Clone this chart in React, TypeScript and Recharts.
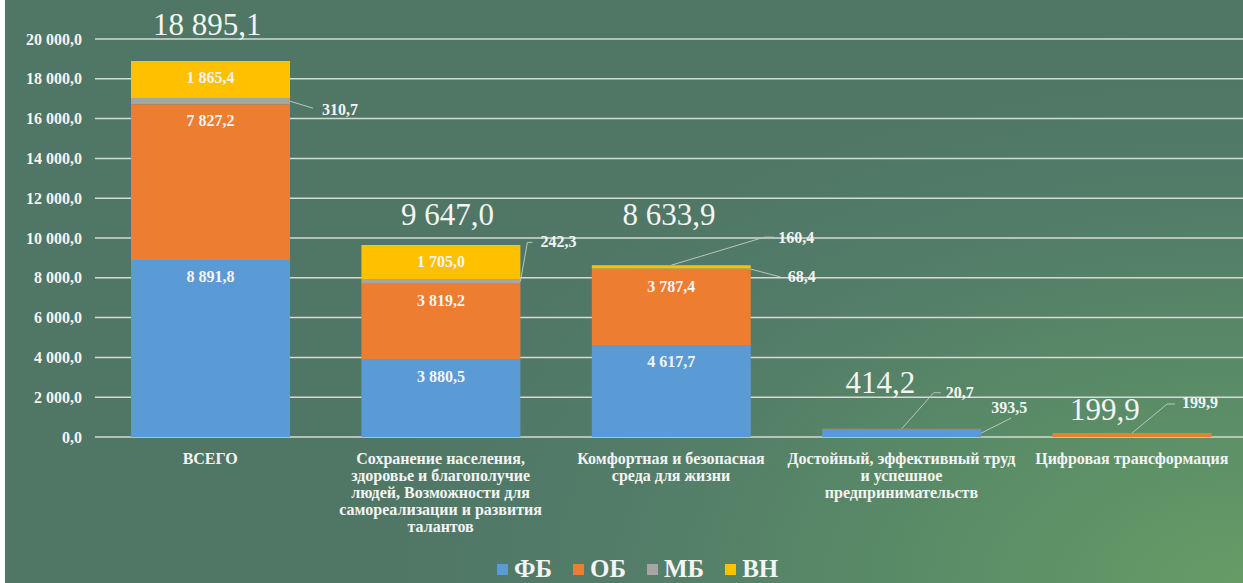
import React from "react";
import { ComposedChart, Bar, Line, XAxis, YAxis, CartesianGrid, LabelList } from "recharts";

// ── Data ──────────────────────────────────────────────────────────────

const categories = [
  "ВСЕГО",
  "Сохранение населения,\nздоровье и благополучие\nлюдей, Возможности для\nсамореализации и развития\nталантов",
  "Комфортная и безопасная\nсреда для жизни",
  "Достойный, эффективный труд\nи успешное\nпредпринимательств",
  "Цифровая трансформация",
];

const fbValues = [8891.8, 3880.5, 4617.7, 393.5, 0];
const obValues = [7827.2, 3819.2, 3787.4, 20.7, 199.9];
const mbValues = [310.7, 242.3, 68.4, 0, 0];
const vnValues = [1865.4, 1705.0, 160.4, 0, 0];

const yTicks = [0, 2000, 4000, 6000, 8000, 10000, 12000, 14000, 16000, 18000, 20000];

const SERIES = [
  { key: "fb", name: "ФБ", color: "#5B9BD5", values: fbValues },
  { key: "ob", name: "ОБ", color: "#ED7D31", values: obValues },
  { key: "mb", name: "МБ", color: "#A5A5A5", values: mbValues },
  { key: "vn", name: "ВН", color: "#FFC000", values: vnValues },
] as const;

const data = categories.map((name, i) => ({
  name,
  fb: fbValues[i],
  ob: obValues[i],
  mb: mbValues[i],
  vn: vnValues[i],
  total: Math.round((fbValues[i] + obValues[i] + mbValues[i] + vnValues[i]) * 10) / 10,
}));

// ── Layout / style ────────────────────────────────────────────────────

const FONT = '"Times New Roman", "Liberation Serif", "DejaVu Serif", serif';
const TEXT = "#F4F4F4";
const LEADER = "#B9C6BE";

// offsets of the big total labels from the top of each stack
const totalShift: [number, number][] = [[-3, -26], [7, -20], [-2, -40], [-21, -36], [-27, -13]];

// small segments labelled outside the bar with a leader line
type Callout = { anchor: "right" | "top"; line: [number, number][]; label: [number, number] };
const callouts: Record<string, Record<number, Callout>> = {
  fb: { 3: { anchor: "right", line: [[30, -15]], label: [10, -20] } },
  ob: {
    3: { anchor: "top", line: [[32, -36], [39, -36]], label: [44, -31] },
    4: { anchor: "top", line: [[35, -29], [43, -29]], label: [50, -25] },
  },
  mb: {
    0: { anchor: "right", line: [[23, 7]], label: [32, 14] },
    1: { anchor: "right", line: [[7, -39], [12, -39]], label: [20, -34] },
    2: { anchor: "right", line: [[30, 8]], label: [37, 13] },
  },
  vn: { 2: { anchor: "top", line: [[93, -28], [103, -28]], label: [107, -22] } },
};

function fmt(v: number): string {
  const [int, dec] = v.toFixed(1).split(".");
  return int.replace(/\B(?=(\d{3})+(?!\d))/g, " ") + "," + dec;
}

// ── Renderers ─────────────────────────────────────────────────────────

function segmentLabel(seriesKey: string, values: readonly number[]) {
  return (props: any) => {
    const { x, y, width, height, index } = props;
    const v = values[index];
    if (!v || x == null) return null;
    const c = callouts[seriesKey]?.[index];
    if (!c) {
      return (
        <text x={x + width / 2} y={y + 22} textAnchor="middle" fill={TEXT}
          fontFamily={FONT} fontSize={16} fontWeight={700}>
          {fmt(v)}
        </text>
      );
    }
    const ax = c.anchor === "right" ? x + width : x + width / 2;
    const ay = c.anchor === "right" ? y + height / 2 : y;
    const pts = [[ax, ay], ...c.line.map(([dx, dy]) => [ax + dx, ay + dy])];
    return (
      <g>
        <polyline points={pts.map((p) => p.join(",")).join(" ")} fill="none" stroke={LEADER} strokeWidth={1} />
        <text x={ax + c.label[0]} y={ay + c.label[1]} fill={TEXT}
          fontFamily={FONT} fontSize={16} fontWeight={700}>
          {fmt(v)}
        </text>
      </g>
    );
  };
}

function totalLabel(props: any) {
  const { x, y, index, value } = props;
  if (x == null) return null;
  const [dx, dy] = totalShift[index] ?? [0, -20];
  return (
    <text x={x + dx} y={y + dy} textAnchor="middle" fill={TEXT}
      fontFamily={FONT} fontSize={31} fontWeight={400}>
      {fmt(Number(value))}
    </text>
  );
}

function CategoryTick(props: any) {
  const { x, y, payload } = props;
  const lines = String(payload.value).split("\n");
  return (
    <text x={x} y={y + 19} textAnchor="middle" fill={TEXT}
      fontFamily={FONT} fontSize={16} fontWeight={700}>
      {lines.map((ln, i) => (
        <tspan key={i} x={x} dy={i === 0 ? 0 : 17}>{ln}</tspan>
      ))}
    </text>
  );
}

// ── Main ──────────────────────────────────────────────────────────────

export default function App() {
  return (
    <div style={{ position: "absolute", left: 0, top: 0, width: 1243, height: 583, overflow: "hidden", background: "#FFFFFF" }}>
      <div style={{
        position: "absolute", left: 5, top: 0, right: 0, bottom: 0,
        background: "radial-gradient(ellipse 75% 95% at 100% 100%, #659C66 0%, #5A8C67 35%, #527B68 70%, #507666 100%)",
      }} />
      <div style={{ position: "absolute", left: 0, top: 0 }}>
        <ComposedChart width={1250} height={583} data={data}
          margin={{ top: 39, right: 3, bottom: 0, left: 0 }} barSize={159}>
          <CartesianGrid horizontal vertical={false} stroke="#D3DCD6" strokeWidth={1.5} />
          <XAxis dataKey="name" axisLine={false} tickLine={false} height={146}
            interval={0} tick={<CategoryTick />} />
          <YAxis type="number" domain={[0, 20000]} ticks={yTicks} width={95}
            axisLine={false} tickLine={false} tickMargin={7}
            tickFormatter={(v: number) => fmt(v)}
            tick={{ fill: TEXT, fontFamily: FONT, fontSize: 16, fontWeight: 700 }} />
          {SERIES.map((s) => (
            <Bar key={s.key} dataKey={s.key} name={s.name} stackId="a" fill={s.color} isAnimationActive={false}>
              <LabelList dataKey={s.key} content={segmentLabel(s.key, s.values)} />
            </Bar>
          ))}
          <Line dataKey="total" stroke="none" dot={false} activeDot={false} legendType="none" isAnimationActive={false}>
            <LabelList dataKey="total" content={totalLabel} />
          </Line>
        </ComposedChart>
      </div>
      {/* legend */}
      <div style={{ position: "absolute", left: 497, top: 557, height: 24, display: "flex", alignItems: "center", fontFamily: FONT, fontWeight: 700, fontSize: 25, lineHeight: "24px", color: TEXT }}>
        {SERIES.map((s) => (
          <div key={s.key} style={{ display: "flex", alignItems: "center", marginRight: 21 }}>
            <span style={{ width: 11, height: 11, background: s.color, marginRight: 6, display: "inline-block" }} />
            <span>{s.name}</span>
          </div>
        ))}
      </div>
    </div>
  );
}
